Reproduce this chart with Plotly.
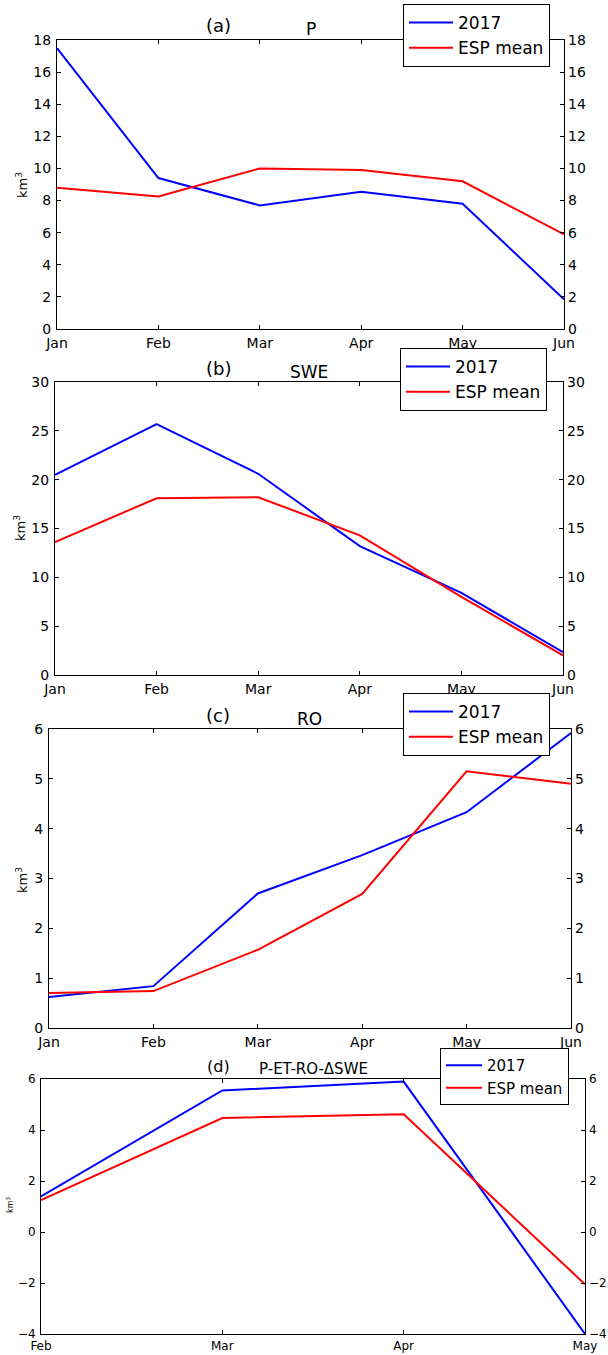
import plotly.graph_objects as go

W, H = 608, 1355

months_a = ["Jan", "Feb", "Mar", "Apr", "May", "Jun"]
months_d = ["Feb", "Mar", "Apr", "May"]

p_2017 = [17.5, 9.4, 7.7, 8.55, 7.8, 1.85]
p_esp = [8.8, 8.25, 10.0, 9.9, 9.2, 5.9]

swe_2017 = [20.5, 25.7, 20.6, 13.2, 8.4, 2.35]
swe_esp = [13.6, 18.1, 18.2, 14.3, 8.0, 2.0]

ro_2017 = [0.62, 0.84, 2.7, 3.47, 4.33, 5.92]
ro_esp = [0.7, 0.74, 1.57, 2.69, 5.15, 4.9]

bal_2017 = [1.4, 5.55, 5.9, -4.0]
bal_esp = [1.25, 4.47, 4.62, -2.05]

series_names = ["2017", "ESP mean"]
colors = ["#0000ff", "#ff0000"]

FONT = "DejaVu Sans"

# panel pixel boxes: left, right, top, bottom
panels = [
    dict(box=(57, 564, 40, 329), months=months_a, data=[p_2017, p_esp], yr=[0, 18], dt=2,
         tag="(a)", title="P", tagy=26, titley=29, tick=14, tfont=17, lfont=17, iw=44,
         leg=(403, 4), ylab=(22, 185), ylabsize=13),
    dict(box=(55, 563, 382, 675), months=months_a, data=[swe_2017, swe_esp], yr=[0, 30], dt=5,
         tag="(b)", title="SWE", tagy=369, titley=372, tick=14, tfont=17, lfont=17, iw=44,
         leg=(400, 348), ylab=(20, 528), ylabsize=13),
    dict(box=(49, 571, 729, 1028), months=months_a, data=[ro_2017, ro_esp], yr=[0, 6], dt=1,
         tag="(c)", title="RO", tagy=716, titley=719, tick=14, tfont=17, lfont=17, iw=44,
         leg=(403, 693), ylab=(22, 880), ylabsize=13),
    dict(box=(41, 585, 1079, 1334), months=months_d, data=[bal_2017, bal_esp], yr=[-4, 6], dt=2,
         tag="(d)", title="P-ET-RO-ΔSWE", tagy=1066, titley=1069, tick=12, tfont=15, lfont=15, iw=36,
         leg=(440, 1048), ylab=(10, 1205), ylabsize=8),
]

fig = go.Figure()
layout = dict(
    width=W, height=H, margin=dict(l=0, r=0, t=0, b=0, autoexpand=False),
    paper_bgcolor="white", plot_bgcolor="white",
    font=dict(family=FONT, color="black"),
    annotations=[],
)

for i, p in enumerate(panels):
    n = i + 1
    xs = "" if n == 1 else str(n)
    xa, ya, yr_name = "x" + xs, "y" + xs, "y" + str(n + 4)
    L, R, T, B = p["box"]
    xdom = [L / W, R / W]
    ydom = [1 - B / H, 1 - T / H]
    npts = len(p["months"])
    xvals = list(range(npts))
    yticks = list(range(p["yr"][0], p["yr"][1] + 1, p["dt"]))
    legname = "legend" if n == 1 else "legend" + str(n)

    for k in range(2):
        fig.add_trace(go.Scatter(
            x=xvals, y=p["data"][k], mode="lines", name=series_names[k],
            line=dict(color=colors[k], width=2), xaxis=xa, yaxis=ya,
            legend=legname, showlegend=True, cliponaxis=False,
        ))
    # dummy trace for right axis
    fig.add_trace(go.Scatter(x=[0], y=[p["yr"][0]], xaxis=xa, yaxis=yr_name, mode="lines",
                             line=dict(width=0), showlegend=False, hoverinfo="skip"))

    layout["xaxis" + xs] = dict(
        domain=xdom, anchor=ya, range=[0, npts - 1], automargin=False,
        tickvals=xvals, ticktext=p["months"], ticks="inside", ticklen=4,
        tickcolor="black", showline=True, linecolor="black", linewidth=1,
        mirror="ticks", showgrid=False, zeroline=False,
        tickfont=dict(size=p["tick"], family=FONT), ticklabelstandoff=1,
    )
    layout["yaxis" + xs] = dict(
        domain=ydom, anchor=xa, range=p["yr"], tickvals=yticks, automargin=False,
        ticks="inside", ticklen=4, tickcolor="black", showline=True,
        linecolor="black", linewidth=1, mirror="ticks", showgrid=False,
        zeroline=False, tickfont=dict(size=p["tick"], family=FONT),
        ticklabelstandoff=2,
    )
    layout["yaxis" + str(n + 4)] = dict(
        overlaying=ya, side="right", anchor=xa, range=p["yr"], tickvals=yticks,
        ticks="", showline=False, showgrid=False, zeroline=False, automargin=False,
        tickfont=dict(size=p["tick"], family=FONT), ticklabelstandoff=3,
    )
    layout[legname] = dict(
        x=p["leg"][0] / W, y=1 - p["leg"][1] / H, xanchor="left", yanchor="top",
        bgcolor="white", bordercolor="black", borderwidth=1, itemwidth=p["iw"],
        font=dict(size=p["lfont"], family=FONT),
    )
    layout["annotations"].append(dict(
        text=p["tag"], x=218 / W, y=1 - p["tagy"] / H, xref="paper", yref="paper",
        xanchor="center", yanchor="middle", showarrow=False,
        font=dict(size=p["tfont"] + 1, family=FONT)))
    layout["annotations"].append(dict(
        text=p["title"], x=(L + R) / 2 / W, y=1 - p["titley"] / H, xref="paper", yref="paper",
        xanchor="center", yanchor="middle", showarrow=False,
        font=dict(size=p["tfont"], family=FONT)))
    layout["annotations"].append(dict(
        text="km<sup>3</sup>", x=p["ylab"][0] / W, y=1 - p["ylab"][1] / H,
        xref="paper", yref="paper", xanchor="center", yanchor="middle",
        textangle=-90, showarrow=False,
        font=dict(size=p["ylabsize"], family=FONT)))

fig.update_layout(**layout)
fig.write_html("out.html")
